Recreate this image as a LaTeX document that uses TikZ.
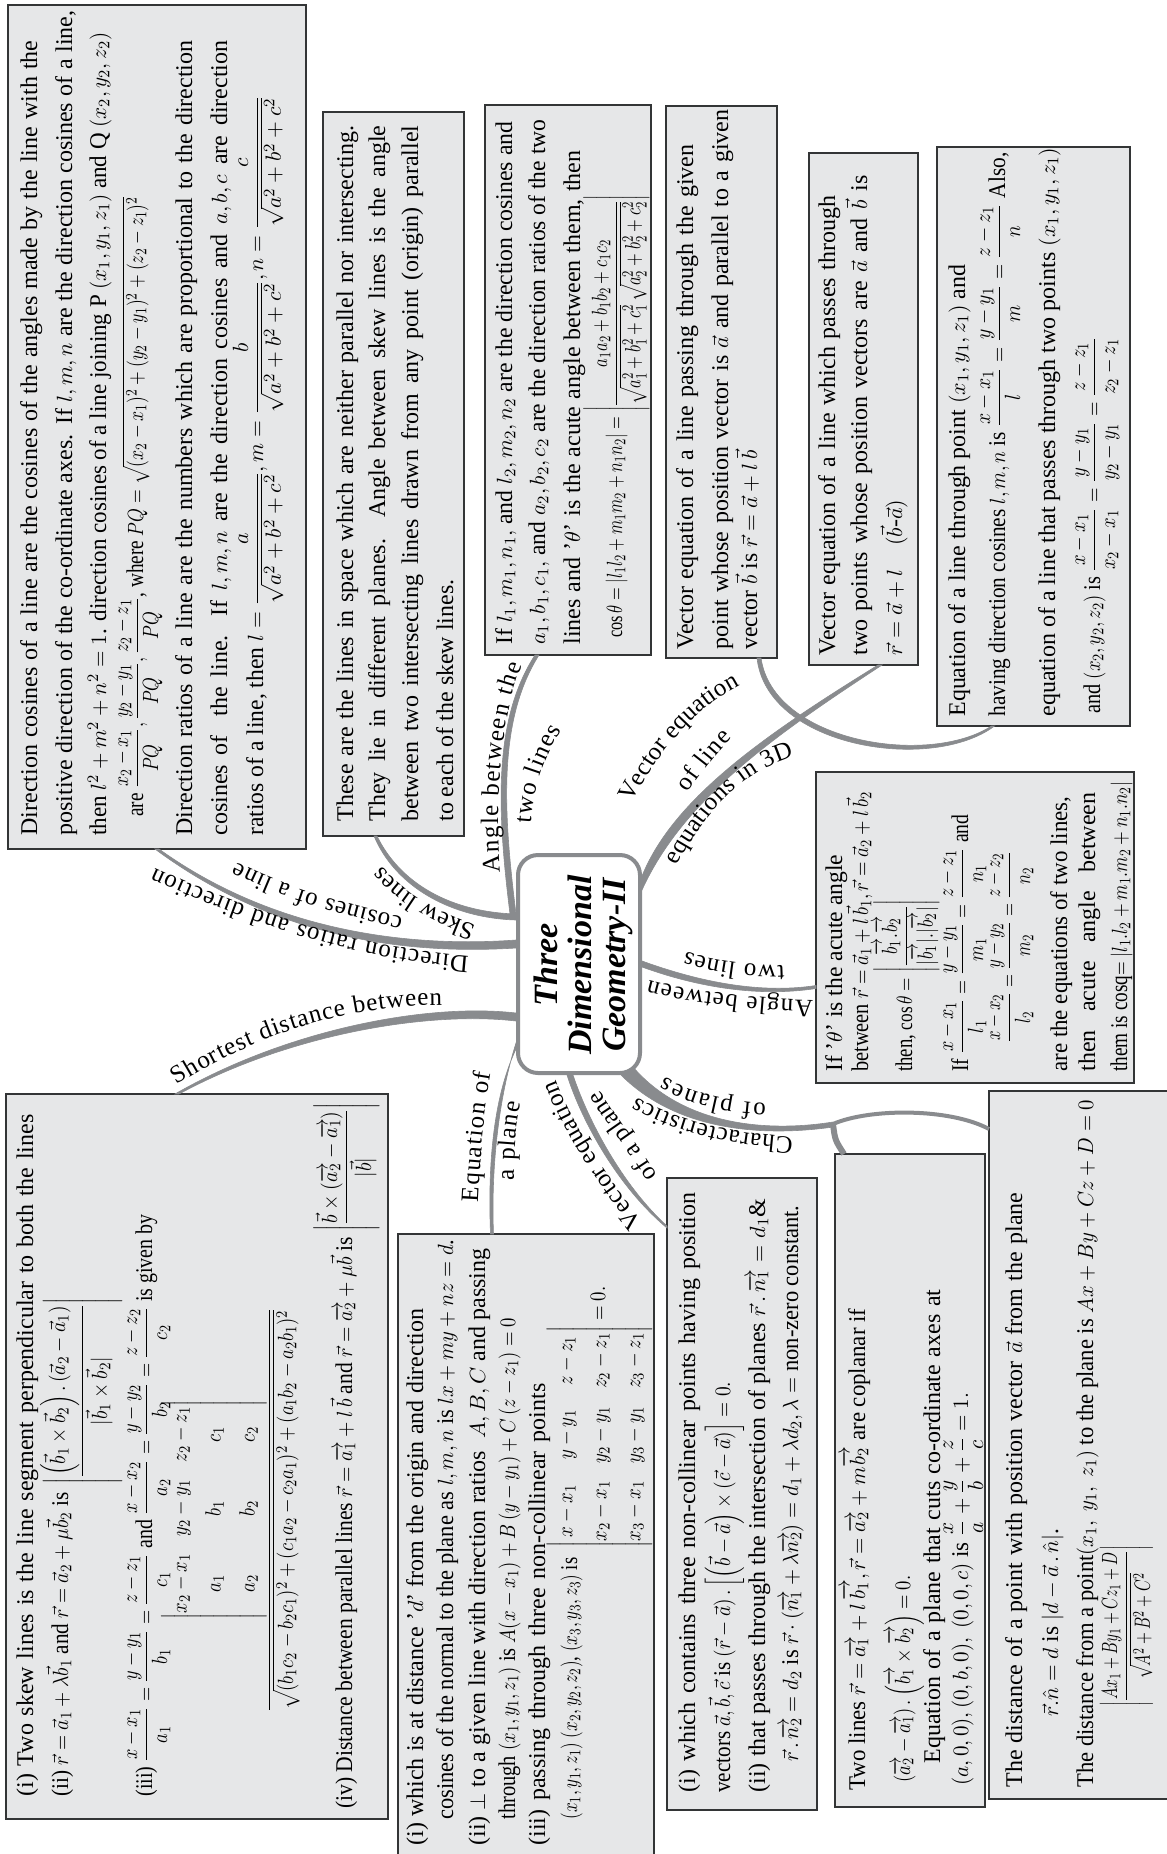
\documentclass[tikz,border=0pt]{standalone}
\usepackage{fix-cm}
\usepackage{amsmath}
\usepackage{graphicx}
\usepackage{fontspec}
\setmainfont{Liberation Serif}
\usepackage{tikz}
\usetikzlibrary{decorations.text}

\DeclareMathSizes{12}{11}{8}{6}

\definecolor{boxgray}{HTML}{E6E7E8}
\definecolor{edgegray}{HTML}{333536}
\definecolor{branchgray}{HTML}{898B8E}

\newcommand{\bodyfont}{\fontsize{12}{17}\selectfont}
\newcommand{\lblfont}{\fontsize{12.5}{15}\selectfont}
\newsavebox{\lnbox}
\newcommand{\fl}[2]{\sbox{\lnbox}{#2}\ifdim\wd\lnbox>\dimexpr#1pt/2\relax\resizebox{\dimexpr#1pt/2\relax}{\height}{\usebox{\lnbox}}\else\makebox[\dimexpr#1pt/2\relax][s]{#2}\fi}
\newcommand{\ora}[1]{\overrightarrow{#1}}

\tikzset{
  infobox/.style={draw=edgegray, fill=boxgray, line width=.8pt, inner sep=0pt, outer sep=0pt},
  tl/.style={rotate=90, anchor=base west, inner sep=0pt, font=\bodyfont},
  tf/.style={rotate=90, anchor=base, inner sep=0pt, font=\bodyfont},
  branch/.style={draw=branchgray, fill=branchgray, line width=.3pt},
  conn/.style={draw=branchgray},
  lbl/.style={decorate, decoration={text along path, text align={fit to path}, text={|\lblfont|#1}}}
}

\begin{document}
\begin{tikzpicture}[x=.5pt, y=-.5pt]
  \useasboundingbox (0,0) rectangle (1167,1854);

  % boxes
  \node[infobox, minimum width=149pt, minimum height=422pt] (dircos) at (157,427) {};
  \node[infobox, minimum width=70.5pt, minimum height=362pt] (skew) at (393.5,474) {};
  \node[infobox, minimum width=83pt, minimum height=275pt] (angtwo) at (568,380) {};
  \node[infobox, minimum width=55.5pt, minimum height=276pt] (vecgiven) at (721.5,382) {};
  \node[infobox, minimum width=54.5pt, minimum height=256pt] (vectwo) at (863.5,409) {};
  \node[infobox, minimum width=96.5pt, minimum height=289.5pt] (eqline) at (1033.5,436.5) {};
  \node[infobox, minimum width=159pt, minimum height=155.5pt] (angbet) at (975,927.5) {};
  \node[infobox, minimum width=191pt, minimum height=362.5pt] (shortest) at (197,1456.5) {};
  \node[infobox, minimum width=128pt, minimum height=318pt] (planeq) at (526,1552) {};
  \node[infobox, minimum width=75pt, minimum height=316pt] (vecplane) at (742,1494) {};
  \node[infobox, minimum width=75pt, minimum height=326.5pt] (coplanar) at (910,1480.5) {};
  \node[infobox, minimum width=98pt, minimum height=354pt] (distplane) at (1087,1445) {};

  % centre
  \node[draw=branchgray, fill=white, line width=2pt, rounded corners=10pt, minimum width=61pt, minimum height=109pt] (title) at (579,964) {};
  \node[rotate=90, align=center, font=\fontsize{17}{17}\selectfont\bfseries\itshape] (titletext) at (583,965) {Three\\Dimensional\\Geometry-II};

  % branches
  \draw[branch] ([yshift=-24.5pt]title.west) .. controls (430,1003) and (290,1028) .. ([xshift=-11pt]shortest.north) -- ([xshift=-9pt]shortest.north) .. controls (292,1033) and (430,1011) .. ([yshift=-28.5pt]title.west) -- cycle;
  \draw[branch] ([yshift=12pt]title.west) .. controls (420,947) and (280,936) .. ([xshift=1pt]dircos.south) -- ([xshift=-1pt]dircos.south) .. controls (283,944) and (420,954) .. ([yshift=8pt]title.west) -- cycle;
  \draw[branch] ([yshift=25pt]title.west) .. controls (450,912) and (400,883) .. ([xshift=-8.25pt]skew.south) -- ([xshift=-9.75pt]skew.south) .. controls (395,886) and (450,918) .. ([yshift=22pt]title.west) -- cycle;
  \draw[branch] ([xshift=-3pt,yshift=25pt]title.west) .. controls (497,810) and (493,720) .. ([xshift=-16.5pt]angtwo.south) -- ([xshift=-14.5pt]angtwo.south) .. controls (498,720) and (503,810) .. ([yshift=25pt]title.west) -- cycle;
  \draw[branch] ([yshift=44pt]title.east) .. controls (674,797) and (768,733) .. ([xshift=7.25pt]vectwo.south) -- ([xshift=9.25pt]vectwo.south) .. controls (772,737) and (683,800) .. ([yshift=37pt]title.east) -- cycle;
  \draw[branch] ([xshift=19.75pt]vecgiven.south) .. controls (773,742) and (928,767) .. ([xshift=-21pt]eqline.south) -- ([xshift=-19.5pt]eqline.south) .. controls (932,773) and (767,748) .. ([xshift=17.75pt]vecgiven.south) -- cycle;
  \draw[branch] ([yshift=1.5pt]title.east) .. controls (700,982) and (760,994) .. ([yshift=-29pt]angbet.west) -- ([yshift=-30.5pt]angbet.west) .. controls (760,997) and (700,988) .. ([yshift=-1.5pt]title.east) -- cycle;
  \coordinate (charj) at (833,1124);
  \draw[branch] ([xshift=27pt,yshift=4pt]title.south) .. controls (685,1127) and (770,1132) .. ([yshift=1pt]charj) -- ([yshift=-1.5pt]charj) .. controls (770,1136) and (680,1134) .. ([xshift=21pt]title.south) -- cycle;
  \draw[conn, line width=3pt] (charj) .. controls (835,1140) .. ([xshift=-33pt]coplanar.north);
  \draw[conn, line width=2pt] (charj) .. controls (870,1108) and (950,1108) .. ([yshift=158pt]distplane.west);
  \draw[branch] ([xshift=-3pt]title.south) .. controls (588,1120) and (622,1185) .. ([yshift=134pt]vecplane.west) -- ([yshift=133pt]vecplane.west) .. controls (618,1187) and (582,1122) .. ([xshift=-6pt]title.south) -- cycle;
  \draw[branch] ([yshift=-39.5pt]title.west) .. controls (498,1100) and (491,1170) .. ([xshift=-16.25pt]planeq.north) -- ([xshift=-17.75pt]planeq.north) .. controls (488,1170) and (492,1100) .. ([yshift=-42.5pt]title.west) -- cycle;

  % branch labels
  \path[lbl={Shortest distance between}] (177,1085) .. controls (240,1045) and (330,1005) .. (442,1005);
  \path[lbl={Direction ratios and direction}] (469,956) .. controls (390,950) and (290,930) .. (155,868);
  \path[lbl={cosines of a line}] (403,917) .. controls (350,905) and (290,890) .. (237,862);
  \path[lbl={Skew lines}] (476,925) .. controls (446,915) and (406,897) .. (382,866);
  \path[lbl={Angle between the}] (500,872) .. controls (495,800) and (500,720) .. (522,665);
  \path[lbl={two lines}] (531,823) .. controls (533,790) and (545,755) .. (562,730);
  \path[lbl={Vector equation}] (632,803) .. controls (660,750) and (693,710) .. (740,685);
  \path[lbl={of line}] (688,793) .. controls (700,775) and (715,755) .. (732,738);
  \path[lbl={equations in 3D}] (677,866) .. controls (700,822) and (735,775) .. (794,756);
  \path[lbl={Angle between}] (813,1000) .. controls (770,1000) and (690,992) .. (649,980);
  \path[lbl={two lines}] (784,965) .. controls (750,967) and (710,960) .. (686,952);
  \path[lbl={Characteristics}] (793,1137) .. controls (750,1135) and (680,1125) .. (637,1097);
  \path[lbl={of planes}] (766,1103) .. controls (730,1102) and (690,1093) .. (665,1077);
  \path[lbl={Vector equation}] (643,1222) .. controls (610,1180) and (575,1130) .. (556,1080);
  \path[lbl={of a plane}] (657,1175) .. controls (635,1140) and (615,1115) .. (600,1090);
  \path[lbl={Equation of}] (478,1202) .. controls (480,1160) and (484,1115) .. (491,1073);
  \path[lbl={a plane}] (514,1180) .. controls (514,1150) and (516,1125) .. (521,1103);

  % direction cosines
  \node[tl] (dircos1) at (37,836) {\fl{795}{Direction cosines of a line are the cosines of the angles made by the line with the}};
  \node[tl] (dircos2) at (72,836) {\fl{825}{positive direction of the co-ordinate axes. If $l,m,n$ are the direction cosines of a line,}};
  \node[tl] (dircos3) at (106,836) {\fl{803}{then $l^2+m^2+n^2=1$. direction cosines of a line joining P $(x_1,y_1,z_1)$ and Q $(x_2,y_2,z_2)$}};
  \node[tl] (dircos4) at (143,817) {\fl{620}{are $\dfrac{x_2-x_1}{PQ},\dfrac{y_2-y_1}{PQ},\dfrac{z_2-z_1}{PQ}$, where $PQ=\sqrt{(x_2-x_1)^2+(y_2-y_1)^2+(z_2-z_1)^2}$}};
  \node[tl] (dircos5) at (192,836) {\fl{795}{Direction ratios of a line are the numbers which are proportional to the direction}};
  \node[tl] (dircos6) at (227,836) {\fl{795}{cosines of\ \ the line. If $l,m,n$ are the direction cosines and $a,b,c$ are direction}};
  \node[tl] (dircos7) at (263,836) {\fl{740}{ratios of a line, then $l=\dfrac{a}{\sqrt{a^2+b^2+c^2}},m=\dfrac{b}{\sqrt{a^2+b^2+c^2}},n=\dfrac{c}{\sqrt{a^2+b^2+c^2}}$}};

  % skew lines
  \node[tl] (skew1) at (353,822) {\fl{696}{These are the lines in space which are neither parallel nor intersecting.}};
  \node[tl] (skew2) at (385,822) {\fl{696}{They lie in different planes. Angle between skew lines is the angle}};
  \node[tl] (skew3) at (418,822) {\fl{696}{between two intersecting lines drawn from any point (origin) parallel}};
  \node[tl] (skew4) at (453,822) {\fl{242}{to each of the skew lines.}};

  % angle between the two lines
  \node[tl] (angtwo1) at (512,645) {\fl{523}{If $l_1,m_1,n_1,$ and $l_2,m_2,n_2$ are the direction cosines and}};
  \node[tl] (angtwo2) at (545,645) {\fl{525}{$a_1,b_1,c_1,$ and $a_2,b_2,c_2$ are the direction ratios of the two}};
  \node[tl] (angtwo3) at (580,645) {\fl{494}{lines and '$\theta$' is the acute angle between them, then}};
  \node[tl] (angtwo4) at (622,638) {\fl{443}{$\cos\theta=|l_1l_2+m_1m_2+n_1n_2|=\left|\dfrac{a_1a_2+b_1b_2+c_1c_2}{\sqrt{a_1^2+b_1^2+c_1^2}\,\sqrt{a_2^2+b_2^2+c_2^2}}\right|$}};

  % vector equation, given point
  \node[tl] (vecgiven1) at (693,650) {\fl{505}{Vector equation of a line passing through the given}};
  \node[tl] (vecgiven2) at (728,650) {\fl{540}{point whose position vector is $\vec a$ and parallel to a given}};
  \node[tl] (vecgiven3) at (757,650) {\fl{199}{vector $\vec b$ is $\vec r=\vec a+l\,\vec b$}};

  % vector equation, two points
  \node[tl] (vectwo1) at (835,656) {\fl{460}{Vector equation of a line which passes through}};
  \node[tl] (vectwo2) at (867,656) {\fl{480}{two points whose position vectors are $\vec a$ and $\vec b$ is}};
  \node[tl] (vectwo3) at (902,656) {\fl{156}{$\vec r=\vec a+l\quad(\vec b\text{-}\vec a)$}};

  % equation of a line
  \node[tl] (eqline1) at (965,717) {\fl{452}{Equation of a line through point $(x_1,y_1,z_1)$ and}};
  \node[tl] (eqline2) at (1005,717) {\fl{564}{having direction cosines $l,m,n$ is $\dfrac{x-x_1}{l}=\dfrac{y-y_1}{m}=\dfrac{z-z_1}{n}$ Also,}};
  \node[tl] (eqline3) at (1055,717) {\fl{569}{equation of a line that passes through two points $(x_1,y_1,z_1)$}};
  \node[tl] (eqline4) at (1100,714) {\fl{377}{and $(x_2,y_2,z_2)$ is $\dfrac{x-x_1}{x_2-x_1}=\dfrac{y-y_1}{y_2-y_1}=\dfrac{z-z_1}{z_2-z_1}$}};

  % angle between two lines
  \node[tl] (angbet1) at (842,1072) {\fl{217}{If '$\theta$' is the acute angle}};
  \node[tl] (angbet2) at (868,1072) {\fl{280}{between $\vec r=\vec a_1+l\,\vec b_1,\vec r=\vec a_2+l\,\vec b_2$}};
  \node[tl] (angbet3) at (912,1072) {\fl{172}{then, $\cos\theta=\left|\dfrac{\ora{b_1}.\ora{b_2}}{|\ora{b_1}|.|\ora{b_2}|}\right|$}};
  \node[tl] (angbet4) at (968,1072) {\fl{257}{If $\dfrac{x-x_1}{l_1}=\dfrac{y-y_1}{m_1}=\dfrac{z-z_1}{n_1}$ and}};
  \node[tl] (angbet5) at (1015,1043) {\fl{191}{$\dfrac{x-x_2}{l_2}=\dfrac{y-y_2}{m_2}=\dfrac{z-z_2}{n_2}$}};
  \node[tl] (angbet6) at (1067,1072) {\fl{275}{are the equations of two lines,}};
  \node[tl] (angbet7) at (1095,1072) {\fl{279}{then acute angle between}};
  \node[tl] (angbet8) at (1127,1072) {\fl{290}{them is cosq$=|l_1.l_2+m_1.m_2+n_1.n_2|$}};

  % shortest distance
  \node[tl] (shortest1) at (33,1797) {\fl{682}{(i) Two skew lines is the line segment perpendicular to both the lines}};
  \node[tl] (shortest2) at (68,1797) {\fl{304}{(ii) $\vec r=\vec a_1+\lambda\vec b_1$ and $\vec r=\vec a_2+\mu\vec b_2$ is}};
  \node[tf] (shortest3) at (88,1391) {\fl{187}{$\left|\dfrac{\left(\vec b_1\times\vec b_2\right).\left(\vec a_2-\vec a_1\right)}{|\vec b_1\times\vec b_2|}\right|$}};
  \node[tl] (shortest4) at (152,1797) {\fl{582}{(iii) $\dfrac{x-x_1}{a_1}=\dfrac{y-y_1}{b_1}=\dfrac{z-z_1}{c_1}$ and $\dfrac{x-x_2}{a_2}=\dfrac{y-y_2}{b_2}=\dfrac{z-z_2}{c_2}$ is given by}};
  \node[tf] (shortest5) at (275,1510) {\fl{404}{$\dfrac{\begin{vmatrix}x_2-x_1&y_2-y_1&z_2-z_1\\a_1&b_1&c_1\\a_2&b_2&c_2\end{vmatrix}}{\sqrt{(b_1c_2-b_2c_1)^2+(c_1a_2-c_2a_1)^2+(a_1b_2-a_2b_1)^2}}$}};
  \node[tl] (shortest6) at (352,1809) {\fl{706}{(iv) Distance between parallel lines $\vec r=\ora{a_1}+l\,\vec b$ and $\vec r=\ora{a_2}+\mu\vec b$ is $\left|\dfrac{\vec b\times\left(\ora{a_2}-\ora{a_1}\right)}{|\vec b|}\right|$}};

  % equation of a plane
  \node[tl] (planeq1) at (423,1846) {\fl{537}{(i) which is at distance '$d$' from the origin and direction}};
  \node[tl] (planeq2) at (453,1820) {\fl{580}{cosines of the normal to the plane as $l,m,n$ is $lx+my+nz=d$.}};
  \node[tl] (planeq3) at (485,1846) {\fl{597}{(ii) $\perp$ to a given line with direction ratios\ \ $A,B,C$ and passing}};
  \node[tl] (planeq4) at (515,1820) {\fl{502}{through $(x_1,y_1,z_1)$ is $A(x-x_1)+B\,(y-y_1)+C\,(z-z_1)=0$}};
  \node[tl] (planeq5) at (545,1846) {\fl{462}{(iii) passing through three non-collinear points}};
  \node[tl] (planeq6) at (577,1820) {\fl{262}{$(x_1,y_1,z_1)$ $(x_2,y_2,z_2)$, $(x_3,y_3,z_3)$ is}};
  \node[tf] (planeq7) at (605,1417) {\fl{261}{$\begin{vmatrix}x-x_1&y-y_1&z-z_1\\x_2-x_1&y_2-y_1&z_2-z_1\\x_3-x_1&y_3-y_1&z_3-z_1\end{vmatrix}=0.$}};

  % vector equation of a plane
  \node[tl] (vecplane1) at (695,1793) {\fl{600}{(i) which contains three non-collinear points having position}};
  \node[tl] (vecplane2) at (730,1793) {\fl{411}{vectors $\vec a,\vec b,\vec c$ is $\left(\vec r-\vec a\right).\left[\left(\vec b-\vec a\right)\times\left(\vec c-\vec a\right)\right]=0.$}};
  \node[tl] (vecplane3) at (765,1793) {\fl{594}{(ii) that passes through the intersection of planes $\vec r\,.\,\ora{n_1}=d_1$\&}};
  \node[tl] (vecplane4) at (798,1762) {\fl{556}{$\vec r\,.\,\ora{n_2}=d_2$ is $\vec r\cdot\left(\ora{n_1}+\lambda\ora{n_2}\right)=d_1+\lambda d_2,\lambda=$ non-zero constant.}};

  % coplanar lines
  \node[tl] (coplanar1) at (865,1791) {\fl{482}{Two lines $\vec r=\ora{a_1}+l\,\ora{b_1},\vec r=\ora{a_2}+m\ora{b_2}$ are coplanar if}};
  \node[tl] (coplanar2) at (910,1783) {\fl{207}{$\left(\ora{a_2}-\ora{a_1}\right).\left(\ora{b_1}\times\ora{b_2}\right)=0.$}};
  \node[tl] (coplanar3) at (940,1764) {\fl{474}{Equation of a plane that cuts co-ordinate axes at}};
  \node[tl] (coplanar4) at (968,1786) {\fl{393}{$(a,0,0),(0,b,0),\ (0,0,c)$ is $\dfrac{x}{a}+\dfrac{y}{b}+\dfrac{z}{c}=1.$}};

  % distance from a plane
  \node[tl] (distplane1) at (1022,1788) {\fl{595}{The distance of a point with position vector $\vec a$ from the plane}};
  \node[tl] (distplane2) at (1058,1717) {\fl{188}{$\vec r.\hat n=d$ is $\left|d-\vec a\,.\,\hat n\right|$.}};
  \node[tl] (distplane3) at (1093,1788) {\fl{688}{The distance from a point$(x_1,\ y_1,\ z_1)$ to the plane is $Ax+By+Cz+D=0$}};
  \node[tf] (distplane4) at (1132,1626) {\fl{161}{$\left|\dfrac{Ax_1+By_1+Cz_1+D}{\sqrt{A^2+B^2+C^2}}\right|$}};
\end{tikzpicture}
\end{document}
